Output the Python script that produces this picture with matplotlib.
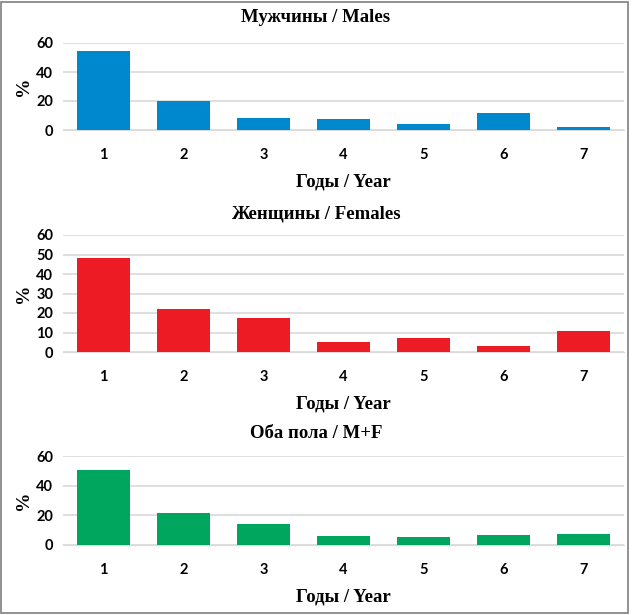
import matplotlib.pyplot as plt
from matplotlib.patches import Rectangle

years = ['1', '2', '3', '4', '5', '6', '7']
males = [54.7, 20.1, 8.3, 7.4, 3.9, 12.0, 2.3]
females = [48.1, 22.2, 17.5, 5.3, 7.2, 3.1, 11.0]
both = [50.8, 21.3, 13.9, 6.0, 5.6, 6.9, 7.4]

titles = ['Мужчины / Males', 'Женщины / Females', 'Оба пола / M+F']
colors = ['#0088CE', '#ED1C24', '#00A65D']
yticks = [[0, 20, 40, 60], [0, 10, 20, 30, 40, 50, 60], [0, 20, 40, 60]]

W, H = 632, 615
# (top px, bottom px) of each plot area, and title pad
rows = [(43, 130, 15), (235, 352, 12), (456, 545, 13)]
left_px, right_px = 63, 624

serif = 'Liberation Serif'
sans = 'Lato'

fig = plt.figure(figsize=(W / 100, H / 100), dpi=100)

for vals, title, color, ticks, (top, bot, tpad) in zip(
        [males, females, both], titles, colors, yticks, rows):
    ax = fig.add_axes([left_px / W, 1 - bot / H,
                       (right_px - left_px) / W, (bot - top) / H])
    x = range(len(years))
    ax.bar(x, vals, width=0.66, color=color, zorder=3)
    ax.set_xlim(-0.5, len(years) - 0.5)
    ax.set_ylim(0, 60)
    ax.set_yticks(ticks)
    ax.set_xticks(list(x))
    ax.set_xticklabels(years)
    ax.grid(axis='y', color='#D9D9D9', linewidth=1.2, zorder=0)
    for s in ['top', 'right', 'left']:
        ax.spines[s].set_visible(False)
    ax.spines['bottom'].set_color('#D9D9D9')
    ax.tick_params(length=0)
    ax.tick_params(axis='y', pad=7)
    ax.tick_params(axis='x', pad=13)
    for lab in ax.get_xticklabels() + ax.get_yticklabels():
        lab.set_fontfamily(sans)
        lab.set_fontweight('bold')
        lab.set_fontsize(10.5)
    # titles are centred on the whole figure, not the plot area
    ax.set_title(title, x=(W / 2 - left_px) / (right_px - left_px),
                 fontfamily=serif, fontweight='bold', fontsize=13.5, pad=tpad)
    ax.set_xlabel('Годы / Year', fontfamily=serif, fontweight='bold',
                  fontsize=13.5, labelpad=8)
    ax.set_ylabel('%', fontfamily=serif, fontweight='bold', fontsize=14,
                  labelpad=3)

fig.patches.append(Rectangle((1 / W, 2 / H), 627 / W, 611 / H,
                             transform=fig.transFigure, fill=False,
                             edgecolor='#7F7F7F', linewidth=1.2))

fig.savefig('out.png', dpi=100)
